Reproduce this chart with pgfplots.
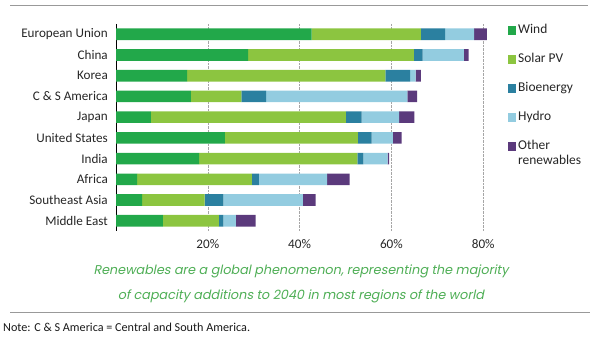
\documentclass[border=0pt]{standalone}
\usepackage{pgfplots}
\pgfplotsset{compat=1.18}
\usepackage{fontspec}
\setmainfont{Carlito}
\newfontfamily\capfont{Poppins}[FakeSlant=0.2]
\definecolor{cwind}{HTML}{22A84A}
\definecolor{csolar}{HTML}{8CC540}
\definecolor{cbio}{HTML}{2B80A0}
\definecolor{chydro}{HTML}{93CCE0}
\definecolor{cother}{HTML}{5B3A7C}
\definecolor{ccap}{HTML}{4EAE55}
\begin{document}
\begin{tikzpicture}
\useasboundingbox (0bp,0bp) rectangle (596bp,338bp);
\draw[gray!80, line width=1bp] (10bp,332bp) -- (588bp,332bp);
\draw[gray!80, line width=1bp] (10bp,25bp) -- (590bp,25bp);
\begin{axis}[
  at={(116bp,106.8bp)}, anchor=south west,
  scale only axis, width=376.4bp, height=207.4bp,
  xbar stacked, bar width=11.7bp,
  xmin=0, xmax=82, ymin=-0.5, ymax=9.5, y dir=reverse,
  axis lines*=left, axis line style={-},
  x axis line style={draw=none},
  y axis line style={draw=black, line width=0.8bp},
  xtick={20,40,60,80}, xticklabels={20\%,40\%,60\%,80\%},
  ytick={0,...,9},
  yticklabels={European Union,China,Korea,C \& S America,Japan,United States,India,Africa,Southeast Asia,Middle East},
  major tick length=0pt,
  xmajorgrids, grid style={densely dotted, gray!70, line width=0.6bp},
  tick label style={font=\fontsize{13.2}{15}\selectfont, text=black!85},
  /pgf/number format/assume math mode=true,
  yticklabel style={inner xsep=8bp},
  xticklabel style={yshift=-5bp},
  legend style={draw=none, fill=none, at={(1.0406,1.0053)}, anchor=north west,
    font=\fontsize{13.5}{15}\selectfont, text=black!85, row sep=14bp, inner sep=0pt,
    nodes={inner xsep=2bp, inner ysep=1bp, text height=10bp, text depth=3bp, anchor=west}},
  legend cell align=left,
  legend image code/.code={\fill[#1] (0bp,-4.2bp) rectangle (8.3bp,4.2bp);},
]
\addplot[fill=cwind, draw=none] coordinates {(42.6,0) (28.8,1) (15.5,2) (16.3,3) (7.6,4) (23.7,5) (18.1,6) (4.6,7) (5.7,8) (10.2,9)};
\addplot[fill=csolar, draw=none] coordinates {(23.8,0) (36.1,1) (43.2,2) (11.0,3) (42.5,4) (29.0,5) (34.5,6) (25.0,7) (13.6,8) (12.2,9)};
\addplot[fill=cbio, draw=none] coordinates {(5.3,0) (1.9,1) (5.4,2) (5.4,3) (3.4,4) (3.0,5) (1.3,6) (1.5,7) (4.1,8) (1.0,9)};
\addplot[fill=chydro, draw=none] coordinates {(6.3,0) (9.0,1) (1.2,2) (30.8,3) (8.2,4) (4.6,5) (5.3,6) (14.9,7) (17.3,8) (2.7,9)};
\addplot[fill=cother, draw=none] coordinates {(2.8,0) (1.0,1) (1.1,2) (2.1,3) (3.3,4) (1.9,5) (0.3,6) (4.9,7) (2.8,8) (4.3,9)};
\addlegendentry{Wind}
\addlegendentry{Solar PV}
\addlegendentry{Bioenergy}
\addlegendentry{Hydro}
\addlegendentry{\smash{\begin{tabular}[t]{@{}l@{}}Other\\renewables\end{tabular}}}
\end{axis}
\node[font=\capfont\fontsize{12.8}{15}\selectfont, text=ccap] at (301bp,67bp) {Renewables are a global phenomenon, representing the majority};
\node[font=\capfont\fontsize{12.8}{15}\selectfont, text=ccap] at (301bp,42bp) {of capacity additions to 2040 in most regions of the world};
\node[anchor=west, font=\fontsize{12.2}{14}\selectfont, inner sep=0pt, text=black!90] at (3bp,11bp) {Note: C \& S America = Central and South America.};
\end{tikzpicture}
\end{document}
